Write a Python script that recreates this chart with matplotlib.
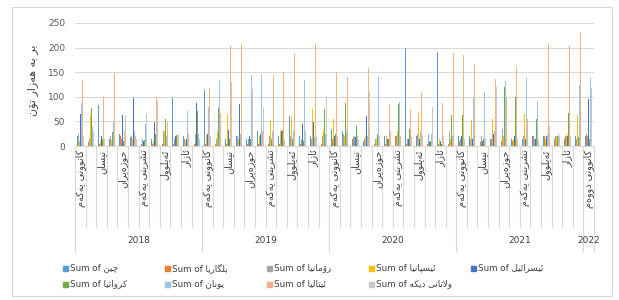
import numpy as np
import matplotlib.pyplot as plt
from matplotlib.patches import Rectangle

plt.rcParams['font.family'] = ['DejaVu Sans']

# matplotlib does no Arabic shaping, so map letters to presentation forms
# (isolated, final, initial, medial) and lay them out in visual order
FORMS = {
    'ا': ('\uFE8D', '\uFE8E', None, None),
    'ب': ('\uFE8F', '\uFE90', '\uFE91', '\uFE92'),
    'پ': ('\uFB56', '\uFB57', '\uFB58', '\uFB59'),
    'ت': ('\uFE95', '\uFE96', '\uFE97', '\uFE98'),
    'چ': ('\uFB7A', '\uFB7B', '\uFB7C', '\uFB7D'),
    'ح': ('\uFEA1', '\uFEA2', '\uFEA3', '\uFEA4'),
    'د': ('\uFEA9', '\uFEAA', None, None),
    'ر': ('\uFEAD', '\uFEAE', None, None),
    'ز': ('\uFEAF', '\uFEB0', None, None),
    'س': ('\uFEB1', '\uFEB2', '\uFEB3', '\uFEB4'),
    'ش': ('\uFEB5', '\uFEB6', '\uFEB7', '\uFEB8'),
    'ک': ('\uFB8E', '\uFB8F', '\uFB90', '\uFB91'),
    'گ': ('\uFB92', '\uFB93', '\uFB94', '\uFB95'),
    'ل': ('\uFEDD', '\uFEDE', '\uFEDF', '\uFEE0'),
    'م': ('\uFEE1', '\uFEE2', '\uFEE3', '\uFEE4'),
    'ن': ('\uFEE5', '\uFEE6', '\uFEE7', '\uFEE8'),
    'و': ('\uFEED', '\uFEEE', None, None),
    'ۆ': ('\uFBD9', '\uFBDA', None, None),
    'ه': ('\uFEE9', '\uFEEA', '\uFEEB', '\uFEEC'),
    'ە': ('\uFEE9', '\uFEEA', None, None),
    'ی': ('\uFBFC', '\uFBFD', '\uFBFE', '\uFBFF'),
    'ئ': ('\uFE89', '\uFE8A', '\uFE8B', '\uFE8C'),
}
SUBST = {'ڵ': 'ل', 'ێ': 'ی', 'ڕ': 'ر'}


def shape(text):
    out = []
    for word in text.split(' '):
        word = ''.join(SUBST.get(c, c) for c in word)
        glyphs = []
        i = 0
        prev_dual = False
        while i < len(word):
            c = word[i]
            if c == 'ل' and i + 1 < len(word) and word[i + 1] == 'ا':
                glyphs.append('\uFEFC' if prev_dual else '\uFEFB')
                prev_dual = False
                i += 2
                continue
            f = FORMS[c]
            dual = f[2] is not None
            nxt = dual and i + 1 < len(word)
            if prev_dual and nxt:
                g = f[3]
            elif prev_dual:
                g = f[1]
            elif nxt:
                g = f[2]
            else:
                g = f[0]
            glyphs.append(g)
            prev_dual = dual
            i += 1
        out.append(''.join(glyphs))
    return ' '.join(out)[::-1]


years = ['2018', '2019', '2020', '2021', '2022']
months = ['کانوونی یەکەم', 'کانوونی دووەم', 'نیسان', 'شوبات', 'حوزەیران', 'تەممووز',
          'تشرینی یەکەم', 'تشرینی دووەم', 'ئەیلوول', 'ئایار', 'ئازار', 'ئاب']
months_per_year = [12, 12, 12, 12, 1]
labels_2022 = ['کانوونی دووەم']

names = ['چین', 'بلگاریا', 'رۆمانیا', 'ئیسپانیا', 'ئیسرائیل',
         'کرواتیا', 'یونان', 'ئیتالیا', 'وڵاتانی دیکە']
colors = ['#5B9BD5', '#ED7D31', '#A5A5A5', '#FFC000', '#4472C4',
          '#70AD47', '#9DC3E6', '#F4B183', '#C9C9C9']

china = [20, 10, 83, 15, 25, 18, 10, 15, 20, 98, 20, 25, 113, 20, 15, 20, 15, 30, 147, 20,
         60, 20, 20, 15, 35, 30, 15, 10, 10, 20, 25, 200, 20, 155, 192, 15, 20, 20, 15, 15,
         20, 15, 15, 20, 20, 20, 15, 20, 20]
bulgaria = [5, 8, 5, 5, 20, 5, 5, 5, 5, 5, 5, 5, 5, 5, 5, 5, 5, 5, 5, 5,
            5, 5, 5, 5, 15, 15, 18, 5, 5, 5, 20, 5, 5, 5, 5, 5, 10, 10, 8, 15,
            10, 10, 10, 20, 20, 15, 20, 15, 25]
romania = [25, 15, 25, 20, 15, 20, 15, 20, 30, 15, 15, 25, 20, 15, 20, 20, 15, 20, 20, 25,
           20, 15, 15, 20, 35, 25, 20, 15, 15, 25, 20, 15, 25, 25, 20, 30, 15, 15, 20, 20,
           35, 20, 20, 15, 15, 20, 20, 15, 20]
spain = [10, 63, 10, 12, 18, 15, 30, 10, 30, 10, 10, 10, 22, 30, 65, 15, 60, 20, 50, 30,
         58, 62, 75, 30, 55, 20, 15, 20, 15, 20, 30, 30, 68, 15, 15, 15, 30, 52, 55, 55,
         20, 15, 65, 20, 15, 20, 25, 62, 30]
israel = [65, 15, 20, 10, 63, 98, 10, 48, 78, 20, 15, 88, 25, 25, 33, 85, 20, 25, 30, 30,
          30, 45, 48, 15, 20, 15, 18, 60, 10, 15, 65, 15, 15, 8, 10, 15, 20, 15, 10, 25,
          25, 20, 15, 15, 20, 93, 20, 15, 95]
croatia = [60, 78, 15, 28, 10, 35, 12, 25, 55, 22, 15, 72, 15, 78, 15, 75, 15, 35, 15, 32,
           15, 10, 65, 75, 25, 88, 40, 15, 25, 15, 85, 35, 15, 10, 5, 62, 62, 15, 15, 15,
           120, 100, 82, 55, 15, 20, 68, 18, 15]
greece = [88, 40, 50, 48, 212, 30, 45, 30, 20, 25, 72, 25, 80, 135, 30, 25, 145, 145, 30, 25,
          30, 135, 18, 25, 62, 30, 20, 20, 143, 120, 90, 25, 30, 25, 40, 20, 110, 98, 110, 30,
          133, 20, 138, 92, 25, 25, 30, 125, 138]
italy = [135, 160, 100, 148, 30, 20, 220, 100, 48, 20, 25, 20, 118, 68, 205, 207, 25, 30, 145, 150,
         187, 180, 207, 208, 150, 140, 230, 158, 110, 85, 20, 75, 110, 157, 88, 190, 185, 167, 223, 137,
         100, 160, 55, 205, 208, 170, 205, 232, 30]
others = [20, 30, 15, 20, 63, 15, 65, 92, 15, 25, 35, 15, 20, 25, 130, 20, 115, 78, 20, 15,
          110, 30, 20, 100, 20, 40, 15, 110, 20, 30, 30, 20, 20, 80, 20, 160, 15, 20, 15, 120,
          20, 15, 20, 15, 40, 20, 20, 20, 118]
series = [china, bulgaria, romania, spain, israel, croatia, greece, italy, others]

ylabel = 'بڕ بە هەزار تۆن'

# category list: month label per category
cat_labels = []
for n in months_per_year:
    cat_labels += months[:n] if n == 12 else labels_2022
n_cat = len(cat_labels)

fig = plt.figure(figsize=(6.19, 3.0), dpi=100)
ax = fig.add_axes([75 / 619, 154 / 300, 519 / 619, 123 / 300])

x = np.arange(n_cat)
cluster = 0.62
w = cluster / len(series)
for k, (vals, col) in enumerate(zip(series, colors)):
    ax.bar(x - cluster / 2 + w * (k + 0.5), vals, w, color=col, linewidth=0, zorder=3)

ax.set_xlim(-0.5, n_cat - 0.5)
ax.set_ylim(0, 250)
ax.set_yticks(range(0, 251, 50))
ax.yaxis.grid(True, color='#D9D9D9', lw=0.8, zorder=0)
for s in ['top', 'right', 'left']:
    ax.spines[s].set_visible(False)
ax.spines['bottom'].set_color('#D9D9D9')
ax.spines['bottom'].set_linewidth(0.8)
ax.tick_params(axis='y', length=0, labelsize=6.5, colors='#595959', pad=7)
ax.set_xticks([])

trans = ax.get_xaxis_transform()
# month labels, every other one like Excel's auto skip
start = 0
for yi, n in enumerate(months_per_year):
    for j in range(0, n, 2):
        ax.text(start + j, -0.03, shape(cat_labels[start + j]), rotation=90,
                ha='center', va='top', transform=trans, fontsize=6.9, color='#404040')
    ax.text(start + (n - 1) / 2, -0.77, years[yi], transform=trans, ha='center',
            va='center', fontsize=6.5, color='#404040')
    start += n

# category and year separators of the multi level axis
bounds = np.cumsum([0] + months_per_year) - 0.5
for b in np.arange(n_cat + 1) - 0.5:
    low = -0.86 if b in bounds else -0.66
    ax.plot([b, b], [0, low], transform=trans, clip_on=False, color='#D9D9D9', lw=0.8)

fig.text(33 / 619, 1 - 80 / 300, shape(ylabel), rotation=90, ha='center', va='center',
         fontsize=8, color='#404040')

# legend laid out like Excel: five evenly spaced slots per row
for k, (name, col) in enumerate(zip(names, colors)):
    row, slot = divmod(k, 5)
    lx = 63 + slot * 102
    ly = 268 + row * 16
    fig.patches.append(Rectangle((lx / 619, 1 - (ly + 2.5) / 300), 5 / 619, 5 / 300,
                                 transform=fig.transFigure, color=col))
    fig.text((lx + 7) / 619, 1 - ly / 300, 'Sum of ' + shape(name), ha='left', va='center',
             fontsize=6.3, color='#404040')

fig.patches.append(Rectangle((12 / 619, 4 / 300), 600 / 619, 289 / 300, transform=fig.transFigure,
                             fill=False, edgecolor='#D9D9D9', lw=0.8))

fig.savefig('out.png', dpi=100)
